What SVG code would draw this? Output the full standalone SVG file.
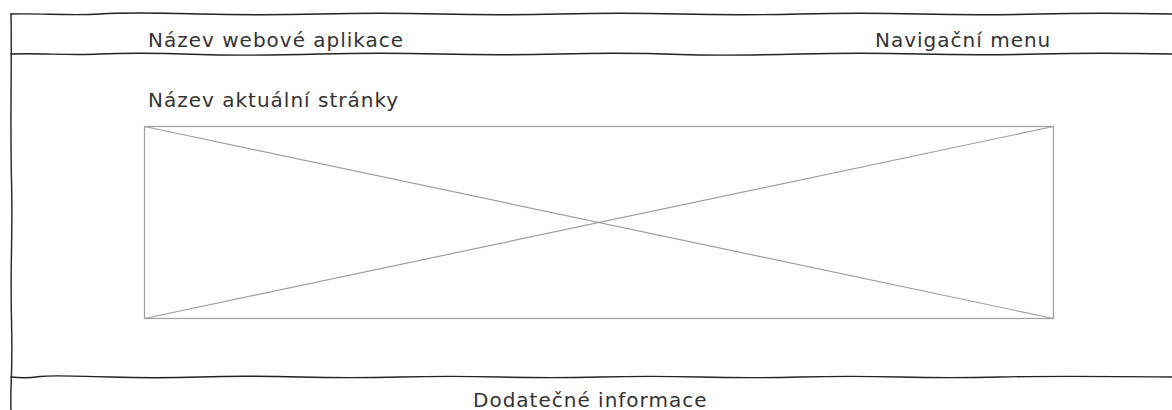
<svg xmlns="http://www.w3.org/2000/svg" width="1172" height="410" viewBox="0 0 1172 410">
<style>
.sk{fill:none;stroke:#222;stroke-width:1.4;stroke-linecap:round}
.ph{fill:none;stroke:#a0a0a0;stroke-width:1.2}
.t{font-family:"DejaVu Sans",Verdana,sans-serif;font-size:20px;letter-spacing:1px;fill:#333}
</style>
<rect width="1172" height="410" fill="#fff"/>
<g id="frame">
<path class="sk" d="M11,14 C40,13 70,16 100,14 S160,13 200,14 S280,15 320,14 S400,13 440,14 S520,15 560,14 S640,13 680,14 S760,15 800,14 S880,13 920,14 S1000,15 1040,14 S1120,13 1172,14"/>
<path class="sk" d="M11,14 C12,60 10,120 11.5,180 S10,260 11.5,320 S10,380 11,410"/>
<path class="sk" d="M11,54 C40,53 70,55.5 100,54 S160,53 200,54.5 S280,55 320,54 S400,53 440,54 S520,55 560,54 S640,53 680,54.5 S760,55 800,54 S880,53 920,54 S1000,55 1040,54 S1120,53 1172,54"/>
<path class="sk" d="M11,377 C20,378 30,378 40,376.5 S80,376 110,377 S170,378 200,377 S260,376 300,377 S360,378 400,377 S460,376 500,377 S560,378 600,377 S660,376 700,377 S760,378 800,377 S860,376 900,377 S960,378 1000,377 S1080,376 1172,377"/>
</g>
<g id="header-title"><text class="t" x="148" y="47">Název webové aplikace</text></g>
<g id="header-nav"><text class="t" x="875" y="47">Navigační menu</text></g>
<g id="page-title"><text class="t" x="148" y="107">Název aktuální stránky</text></g>
<g id="image-placeholder">
<rect class="ph" x="144.5" y="126.5" width="909" height="192"/>
<line class="ph" x1="144.5" y1="126.5" x2="1053.5" y2="318.5"/>
<line class="ph" x1="1053.5" y1="126.5" x2="144.5" y2="318.5"/>
</g>
<g id="footer"><text class="t" x="473" y="407">Dodatečné informace</text></g>
<g id="connectors"/>
</svg>
